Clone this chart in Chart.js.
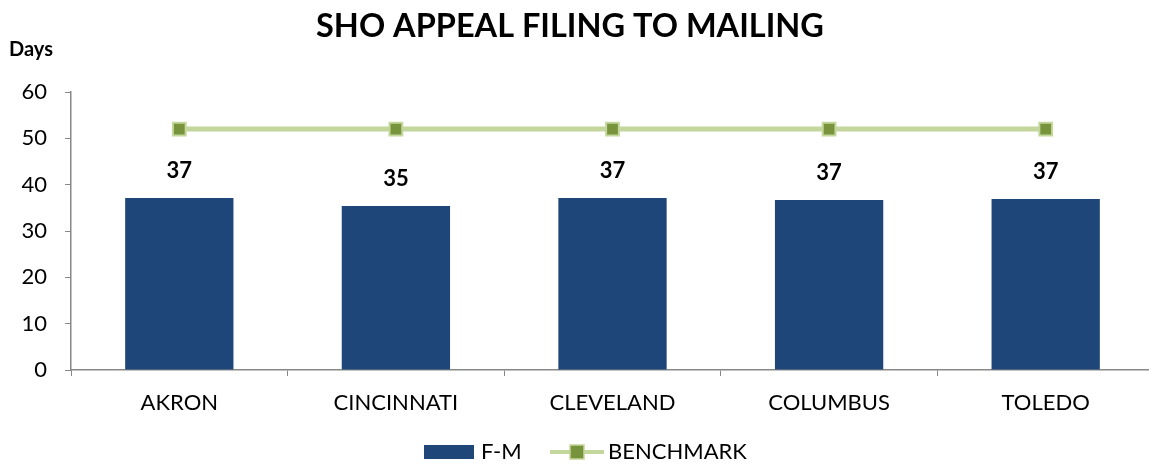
<!DOCTYPE html>
<html><head><meta charset="utf-8">
<script src="https://cdn.jsdelivr.net/npm/chart.js@4/dist/chart.umd.min.js"></script>
<style>html,body{margin:0;padding:0;background:#fff;overflow:hidden}#wrap{width:1149px;height:464px;overflow:hidden}</style>
</head><body><div id="wrap"><canvas id="c" width="1165" height="464"></canvas></div>
<script>
const categories = ['AKRON','CINCINNATI','CLEVELAND','COLUMBUS','TOLEDO'];
const fmValues = [37.1, 35.4, 37.1, 36.7, 36.9];
const fmLabels = ['37','35','37','37','37'];
const benchmarkValues = [52, 52, 52, 52, 52];
const yTicks = [0,10,20,30,40,50,60];
const FONT = 'Lato, "Open Sans", sans-serif';
const BAR = '#1f4678', LINE = '#c3d69b', MARK = '#77933c';

const overlay = {
  id:'overlay',
  afterDraw(chart){
    const ctx = chart.ctx;
    ctx.save();
    ctx.fillStyle = '#000';
    ctx.textAlign = 'center'; ctx.textBaseline = 'middle';
    ctx.font = 'bold 32.5px ' + FONT;
    ctx.fillText('SHO APPEAL FILING TO MAILING', 570, 27);
    ctx.font = 'bold 20px ' + FONT;
    ctx.textAlign = 'left';
    ctx.fillText('Days', 9, 50);
    // data labels
    const meta = chart.getDatasetMeta(1);
    ctx.font = 'bold 22px ' + FONT;
    ctx.textAlign = 'center';
    meta.data.forEach((bar,i)=>{ ctx.fillText(fmLabels[i], bar.x, bar.y - 27); });
    // legend
    const ly = 452;
    ctx.fillStyle = BAR; ctx.fillRect(424, ly-7, 50, 14);
    ctx.fillStyle = '#000'; ctx.font = '22px ' + FONT; ctx.textAlign='left';
    ctx.fillText('F-M', 481, ly);
    ctx.strokeStyle = LINE; ctx.lineWidth = 4; ctx.beginPath(); ctx.moveTo(550, ly); ctx.lineTo(604, ly); ctx.stroke();
    ctx.fillStyle = MARK; ctx.fillRect(570, ly-7, 14, 14);
    ctx.strokeStyle = LINE; ctx.lineWidth = 1.5; ctx.strokeRect(570, ly-7, 14, 14);
    ctx.fillStyle = '#000'; ctx.fillText('BENCHMARK', 608, ly);
    ctx.restore();
  }
};

new Chart(document.getElementById('c'), {
  data: {
    labels: categories,
    datasets: [
      {type:'line', label:'BENCHMARK', data: benchmarkValues, borderColor: LINE, borderWidth: 5,
       pointStyle:'rect', pointRadius: 9, pointBackgroundColor: MARK, pointBorderColor: LINE, pointBorderWidth: 2,
       pointHoverRadius: 9, order: 0},
      {type:'bar', label:'F-M', data: fmValues, backgroundColor: BAR, barPercentage: 1.0, categoryPercentage: 0.5, order: 1}
    ]
  },
  plugins:[overlay],
  options: {
    responsive:false, animation:false,
    layout:{padding:{top:92, right:0, bottom:0, left:0}},
    plugins:{legend:{display:false}, title:{display:false}, tooltip:{enabled:false}},
    scales:{
      x:{offset:true,
         grid:{offset:true, drawOnChartArea:false, drawTicks:true, tickLength:6, color:'#888'},
         border:{color:'#888', width:1.5},
         ticks:{color:'#000', font:{family:FONT, size:22}, padding:14},
         afterFit(s){ s.height = 94; }},
      y:{min:0, max:60,
         afterBuildTicks(s){ s.ticks = yTicks.map(v=>({value:v})); },
         grid:{drawOnChartArea:false, drawTicks:true, tickLength:6, color:'#888'},
         border:{color:'#888', width:1.5},
         ticks:{color:'#000', font:{family:FONT, size:22}, padding:18},
         afterFit(s){ s.width = 71; }}
    }
  }
});
</script></body></html>
